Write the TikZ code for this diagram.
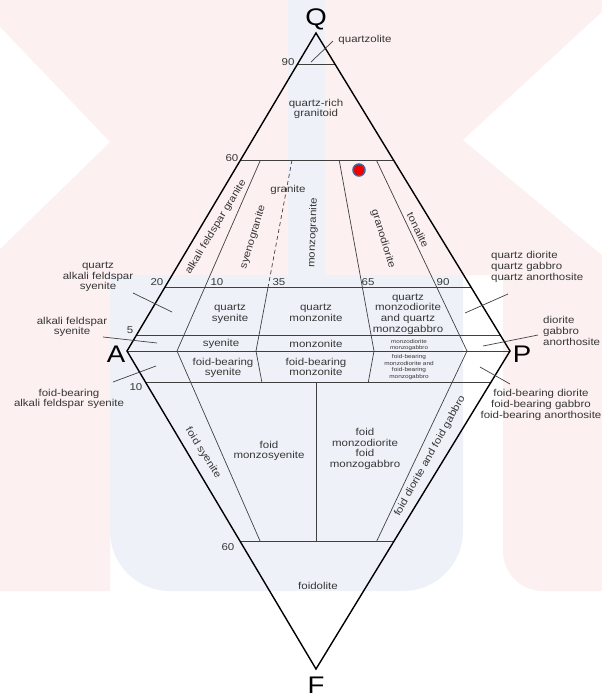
\documentclass[tikz,border=0pt]{standalone}
\usepackage{fontspec}
\setmainfont[FakeStretch=1.15]{Liberation Sans}
\usetikzlibrary{positioning,calc}
\usepackage{xcolor}
\definecolor{inkgray}{RGB}{55,55,55}
\definecolor{markpink}{RGB}{252,240,240}
\definecolor{markblue}{RGB}{238,242,248}
\definecolor{dotred}{RGB}{240,0,0}
\definecolor{dotrim}{RGB}{70,100,150}

\begin{document}
\begin{tikzpicture}[x=1pt,y=-1pt,
    field/.style={font=\fontsize{10}{10.7}\selectfont,text=inkgray,align=center,inner sep=0pt},
    tiny/.style={font=\fontsize{5.6}{6.9}\selectfont,text=inkgray,align=center,inner sep=0pt},
    tick/.style={font=\fontsize{10}{10}\selectfont,text=inkgray,inner sep=0pt},
    apex/.style={font=\fontsize{24}{24}\selectfont,text=black,inner sep=0pt,anchor=base},
    frame/.style={line width=1.4pt,black,line join=miter},
    divide/.style={line width=0.7pt,black!75},
    leader/.style={line width=0.7pt,black!75}]
    \useasboundingbox (0,0) rectangle (602,697);
    \fill[white] (0,0) rectangle (602,697);

    % Faint background logo
    \fill[markpink] (0,0) -- (288,0) -- (288,275) -- (110,275) -- (110,591) -- (0,591) -- cycle;
    \fill[white] (0,27) -- (110,142) -- (0,249) -- cycle;
    \fill[markpink] (325,0) -- (602,0) -- (602,591) [rounded corners=40pt] -- (503,591) [sharp corners] -- (503,275) -- (325,275) -- cycle;
    \fill[white] (602,12) -- (463,140) -- (602,255) -- cycle;
    \fill[markblue] (288,0) rectangle (325,275);
    \fill[markblue] (110,275) [rounded corners=60pt] -- (110,591) -- (463,591) [sharp corners] -- (463,275) -- cycle;

    % Corners of the diamond
    \coordinate (Q) at (316,33);
    \coordinate (A) at (127,351);
    \coordinate (P) at (510,351);
    \coordinate (F) at (316,669);
    % Feet of the ratio lines on A--P
    \coordinate (b10) at (177,351);
    \coordinate (b35) at (256,351);
    \coordinate (b50) at (316,351);
    \coordinate (b65) at (374,351);
    \coordinate (b90) at (467,351);

    % Horizontal divisions
    \draw[divide] ($(A)!0.9!(Q)$) -- ($(P)!0.9!(Q)$);
    \draw[divide] ($(A)!0.6!(Q)$) -- ($(P)!0.6!(Q)$);
    \draw[divide] ($(A)!0.2!(Q)$) -- ($(P)!0.2!(Q)$);
    \draw[divide] ($(A)!0.05!(Q)$) -- ($(P)!0.05!(Q)$);
    \draw[divide] (A) -- (P);
    \draw[divide] ($(A)!0.1!(F)$) -- ($(P)!0.1!(F)$);
    \draw[divide] ($(A)!0.6!(F)$) -- ($(P)!0.6!(F)$);

    % Ratio lines
    \draw[divide] ($(b10)!0.6!(Q)$) -- (b10) -- ($(b10)!0.6!(F)$);
    \draw[divide,dash pattern=on 4pt off 3pt] ($(b35)!0.6!(Q)$) -- ($(b35)!0.2!(Q)$);
    \draw[divide] ($(b35)!0.2!(Q)$) -- (b35) -- ($(b35)!0.1!(F)$);
    \draw[divide] ($(b65)!0.6!(Q)$) -- (b65) -- ($(b65)!0.1!(F)$);
    \draw[divide] ($(b90)!0.6!(Q)$) -- (b90) -- ($(b90)!0.6!(F)$);
    \draw[divide] ($(b50)!0.1!(F)$) -- ($(b50)!0.6!(F)$);

    % Outline
    \draw[frame] (Q) -- (P) -- (F) -- (A) -- cycle;

    % Corner letters
    \node[apex] (lQ) at (316,25) {Q};
    \node[apex] (lA) at (116,362) {A};
    \node[apex] (lP) at (522,362) {P};
    \node[apex] (lF) at (316,693) {F};

    % Numbers on the lines
    \node[tick] (n90q) at (288,62) {90};
    \node[tick] (n60q) at (232,158) {60};
    \node[tick] (n20) at (157,282) {20};
    \node[tick] (n10) at (217,282) {10};
    \node[tick] (n35) at (279,282) {35};
    \node[tick] (n65) at (368,282) {65};
    \node[tick] (n90) at (443,282) {90};
    \node[tick] (n5) at (130,330) {5};
    \node[tick] (n10f) at (136,387) {10};
    \node[tick] (n60f) at (228,547) {60};

    % Upper triangle
    \node[field] (qrich) at (316,109) {quartz-rich\\granitoid};
    \node[field,rotate=59] (afgran) at (216,227) {alkali feldspar granite};
    \node[field,rotate=73] (syenogr) at (253,237) {syenogranite};
    \node[field] (granite) at (288,190) {granite};
    \node[field,rotate=88] (monzogr) at (313,233) {monzogranite};
    \node[field,rotate=-73] (granodio) at (383,239) {granodiorite};
    \node[field,rotate=-64] (tonal) at (418,230) {tonalite};

    % Middle band
    \node[field] (qsyen) at (230,314) {quartz\\syenite};
    \node[field] (qmonz) at (316,313) {quartz\\monzonite};
    \node[field] (qmdio) at (408,314) {quartz\\monzodiorite\\and quartz\\monzogabbro};
    \node[field] (syen) at (221,344) {syenite};
    \node[field] (monz) at (316,344) {monzonite};
    \node[tiny,font=\fontsize{5.4}{5.2}\selectfont] (mdio) at (409,345) {monzodiorite\\monzogabbro};
    \node[field] (fbsyen) at (223,368) {foid-bearing\\syenite};
    \node[field] (fbmonz) at (316,367) {foid-bearing\\monzonite};
    \node[tiny] (fbmdio) at (409,367) {foid-bearing\\monzodiorite and\\foid-bearing\\monzogabbro};

    % Lower triangle
    \node[field,rotate=-58] (fsyen) at (203,453) {foid syenite};
    \node[field] (fmsyen) at (269,451) {foid\\monzosyenite};
    \node[field] (fmdio) at (365,449) {foid\\monzodiorite\\foid\\monzogabbro};
    \node[field,rotate=61] (fdio) at (430,456) {foid diorite and foid gabbro};
    \node[field] (foidol) at (318,586) {foidolite};

    % Labels outside with leaders
    \node[field] (qzlite) at (365,40) {quartzolite};
    \draw[leader] (311,62) -- (333,41);
    \node[field] (qafs) at (98,277) {quartz\\alkali feldspar\\syenite};
    \draw[leader] (133,293) -- (172,312);
    \node[field] (afs) at (72,327) {alkali feldspar\\syenite};
    \draw[leader] (103,337) -- (157,343);
    \node[field] (fbafs) at (69,399) {foid-bearing\\alkali feldspar syenite};
    \draw[leader] (113,382) -- (156,366);
    \node[field,align=left,anchor=west] (qdio) at (491,267) {quartz diorite\\quartz gabbro\\quartz anorthosite};
    \draw[leader] (465,313) -- (508,294);
    \node[field,align=left,anchor=west] (dio) at (543,331) {diorite\\gabbro\\anorthosite};
    \draw[leader] (483,346) -- (538,335);
    \node[field] (fbdio) at (541,405) {foid-bearing diorite\\foid-bearing gabbro\\foid-bearing anorthosite};
    \draw[leader] (480,367) -- (510,384);

    % Sample point
    \node[circle,fill=dotred,draw=dotrim,line width=1.5pt,minimum size=12pt,inner sep=0pt] (sample) at (359,170) {};
\end{tikzpicture}
\end{document}
